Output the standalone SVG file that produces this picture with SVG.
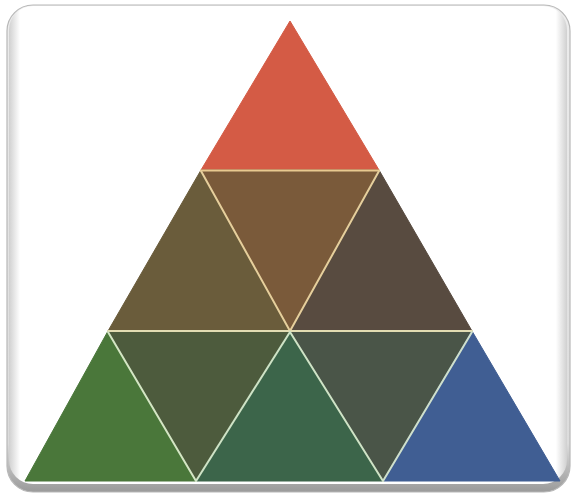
<svg xmlns="http://www.w3.org/2000/svg" width="577" height="497" viewBox="0 0 577 497">
  <defs>
    <linearGradient id="frameGrad" x1="0" y1="0" x2="0" y2="1">
      <stop offset="0" stop-color="#ececec"/>
      <stop offset="0.9" stop-color="#dcdcdc"/>
      <stop offset="1" stop-color="#9a9a9a"/>
    </linearGradient>
    <linearGradient id="sideGrad" x1="0" y1="0" x2="1" y2="0">
      <stop offset="0" stop-color="#d0d0d0"/>
      <stop offset="0.02" stop-color="#ffffff"/>
      <stop offset="0.98" stop-color="#ffffff"/>
      <stop offset="1" stop-color="#d0d0d0"/>
    </linearGradient>
    <style>
      .tri { stroke-width: 1; stroke-linejoin: round; }
      .sep { fill: none; stroke-width: 2; stroke-linecap: round; }
    </style>
  </defs>
  <rect width="577" height="497" fill="#ffffff"/>
  <g id="frame">
    <rect x="7" y="5" width="563" height="487" rx="26" ry="26" fill="url(#frameGrad)" stroke="#b8b8b8" stroke-width="1.2"/>
    <rect x="9" y="6" width="558" height="478" rx="24" ry="24" fill="url(#sideGrad)"/>
  </g>
  <g id="t-red"><polygon class="tri" points="290,21 201,170 379,170" fill="#d45b45" stroke="#d45b45"/></g>
  <g id="t-olive"><polygon class="tri" points="201,170 108,331 290,331" fill="#6a5c3b" stroke="#6a5c3b"/></g>
  <g id="t-brown"><polygon class="tri" points="201,170 379,170 290,331" fill="#7a5a3a" stroke="#7a5a3a"/></g>
  <g id="t-darkbrown"><polygon class="tri" points="379,170 290,331 472,331" fill="#584b40" stroke="#584b40"/></g>
  <g id="t-green"><polygon class="tri" points="108,331 25,481 196,481" fill="#4a773a" stroke="#4a773a"/></g>
  <g id="t-olivegreen"><polygon class="tri" points="108,331 290,331 196,481" fill="#4d5b3d" stroke="#4d5b3d"/></g>
  <g id="t-teal"><polygon class="tri" points="290,331 196,481 383,481" fill="#3c654a" stroke="#3c654a"/></g>
  <g id="t-slate"><polygon class="tri" points="290,331 472,331 383,481" fill="#4a5548" stroke="#4a5548"/></g>
  <g id="t-blue"><polygon class="tri" points="472,331 383,481 560,481" fill="#405e93" stroke="#405e93"/></g>
  <g id="connectors">
    <line class="sep" x1="201" y1="170.5" x2="379" y2="170.5" stroke="#e8c98f"/>
    <line class="sep" x1="201" y1="171" x2="290" y2="331" stroke="#e6cf9c"/>
    <line class="sep" x1="379" y1="171" x2="290" y2="331" stroke="#e6cf9c"/>
    <line class="sep" x1="108" y1="331" x2="472" y2="331" stroke="#e2dcb2"/>
    <line class="sep" x1="108" y1="332" x2="196" y2="481" stroke="#d4e6c4"/>
    <line class="sep" x1="290" y1="332" x2="196" y2="481" stroke="#cfe3c6"/>
    <line class="sep" x1="290" y1="332" x2="383" y2="481" stroke="#cfe3c6"/>
    <line class="sep" x1="472" y1="332" x2="383" y2="481" stroke="#cfe0cc"/>
  </g>
</svg>
